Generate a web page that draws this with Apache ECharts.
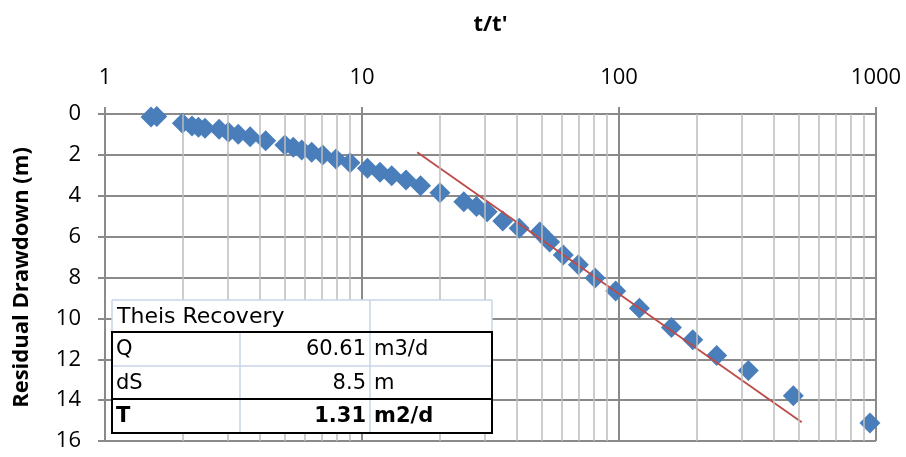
<!DOCTYPE html>
<html><head><meta charset="utf-8">
<script src="https://cdn.jsdelivr.net/npm/echarts@6/dist/echarts.min.js"></script>
<style>html,body{margin:0;padding:0;background:#fff}#c{width:906px;height:457px}</style>
</head><body><div id="c"></div>
<script>
// t/t' ratio (x) and residual drawdown in m (y)
const ratio = [1.51,1.59,2.0,2.18,2.31,2.45,2.78,3.02,3.30,3.67,4.22,5.01,5.40,5.83,6.37,7.03,7.92,8.98,10.5,11.75,13.05,14.83,16.9,20.1,24.9,27.9,30.7,35.3,40.9,49.2,53.7,60.7,69.5,80.7,97.1,120,160,193.6,240,318.6,476.6,947];
const drawdown = [0.15,0.12,0.45,0.59,0.65,0.70,0.75,0.89,0.99,1.11,1.31,1.52,1.63,1.76,1.87,2.0,2.2,2.38,2.66,2.85,3.02,3.23,3.51,3.85,4.29,4.53,4.78,5.23,5.59,5.77,6.26,6.90,7.38,8.03,8.66,9.51,10.45,11.05,11.82,12.55,13.78,15.12];
// fitted straight line (two end points)
const fitRatio = [16.4, 514];
const fitDrawdown = [1.87, 15.08];
// minor log grid lines
const minorGrid = [2,3,4,5,6,7,8,9,20,30,40,50,60,70,80,90,200,300,400,500,600,700,800,900];
// tick labels
const xTicks = [1,10,100,1000];
const yTicks = [0,2,4,6,8,10,12,14,16];
// table content
const tableTitle = 'Theis Recovery';
const tableRows = [['Q','60.61','m3/d'],['dS','8.5','m'],['T','1.31','m2/d']];
const tableBold = [false,false,true];

const chart = echarts.init(document.getElementById('c'));

const TX = [112,240,370,492];
const TY = [300,332,366,399,433];
const light = '#c8d4e8';
const graphics = [];
graphics.push({type:'rect', z:100, shape:{x:TX[0],y:TY[0],width:TX[3]-TX[0],height:TY[4]-TY[0]}, style:{fill:'#fff'}});
function ln(x1,y1,x2,y2,color,w){graphics.push({type:'line', z:101, shape:{x1,y1,x2,y2}, style:{stroke:color,lineWidth:w}});}
ln(TX[0],TY[0],TX[3],TY[0],light,1.5);
ln(TX[0],TY[0],TX[0],TY[1],light,1.5);
ln(TX[3],TY[0],TX[3],TY[1],light,1.5);
ln(TX[2],TY[0],TX[2],TY[4],light,1.5);
ln(TX[1],TY[1],TX[1],TY[4],light,1.5);
ln(TX[0],TY[2],TX[3],TY[2],light,1.5);
graphics.push({type:'rect', z:102, shape:{x:TX[0],y:TY[1],width:TX[3]-TX[0],height:TY[4]-TY[1]}, style:{fill:null,stroke:'#000',lineWidth:2}});
graphics.push({type:'line', z:102, shape:{x1:TX[0],y1:TY[3],x2:TX[3],y2:TY[3]}, style:{stroke:'#000',lineWidth:2}});
const tfont = (b)=> (b?'bold ':'') + '21px "DejaVu Sans"';
graphics.push({type:'text', z:103, x:TX[0]+5, y:(TY[0]+TY[1])/2+1, style:{text:tableTitle, font:'22px "DejaVu Sans"', fill:'#000', align:'left', verticalAlign:'middle'}});
tableRows.forEach((r,i)=>{
  const cy = (TY[i+1]+TY[i+2])/2+1;
  const b = tableBold[i];
  graphics.push({type:'text', z:103, x:TX[0]+4, y:cy, style:{text:r[0], font:tfont(b), fill:'#000', align:'left', verticalAlign:'middle'}});
  graphics.push({type:'text', z:103, x:TX[2]-4, y:cy, style:{text:r[1], font:tfont(b), fill:'#000', align:'right', verticalAlign:'middle'}});
  graphics.push({type:'text', z:103, x:TX[2]+4, y:cy, style:{text:r[2], font:tfont(b), fill:'#000', align:'left', verticalAlign:'middle'}});
});

const axisGray = '#8a8a8a';
chart.setOption({
  animation:false,
  backgroundColor:'#fff',
  grid:{left:105,right:30,top:114,bottom:16},
  xAxis:{
    type:'log', logBase:10, min:1, max:1000, position:'top',
    name:"t/t'", nameLocation:'middle', nameGap:78,
    nameTextStyle:{fontFamily:'Open Sans', fontWeight:'bold', fontSize:22, color:'#000'},
    axisLine:{show:true, lineStyle:{color:axisGray, width:2}},
    axisTick:{show:true, length:7, lineStyle:{color:axisGray, width:2}},
    axisLabel:{fontFamily:'Open Sans', fontSize:22, color:'#000', margin:25,
      formatter:(v)=>{ const r = xTicks.find(t=>Math.abs(t-v)<1e-6*t); return r!==undefined ? String(r) : ''; }},
    splitLine:{show:true, lineStyle:{color:axisGray, width:2}}
  },
  yAxis:{
    type:'value', inverse:true, min:0, max:16, interval:2,
    name:'Residual Drawdown (m)', nameLocation:'middle', nameGap:72, nameRotate:90,
    nameTextStyle:{fontFamily:'Open Sans', fontWeight:'bold', fontSize:22, color:'#000'},
    axisLine:{show:true, lineStyle:{color:axisGray, width:2}},
    axisTick:{show:true, length:7, lineStyle:{color:axisGray, width:2}},
    axisLabel:{fontFamily:'Open Sans', fontSize:22, color:'#000', margin:24,
      formatter:(v)=> yTicks.includes(v) ? String(v) : ''},
    splitLine:{show:true, lineStyle:{color:axisGray, width:2}}
  },
  graphic:{elements:graphics},
  series:[
    {
      type:'line', data:[], z:1, silent:true,
      markLine:{silent:true, symbol:'none', label:{show:false}, animation:false,
        lineStyle:{color:'#bdbdbd', width:1.5, type:'solid'},
        data: minorGrid.map(v=>({xAxis:v}))}
    },
    {
      type:'scatter', z:2, symbol:'diamond', symbolSize:21,
      itemStyle:{color:'#4a7ebb', opacity:1},
      data: ratio.map((x,i)=>[x, drawdown[i]])
    },
    {
      type:'line', z:3, symbol:'none', silent:true,
      lineStyle:{color:'#be4b48', width:1.8},
      data: fitRatio.map((x,i)=>[x, fitDrawdown[i]])
    }
  ]
});
</script>
</body></html>
